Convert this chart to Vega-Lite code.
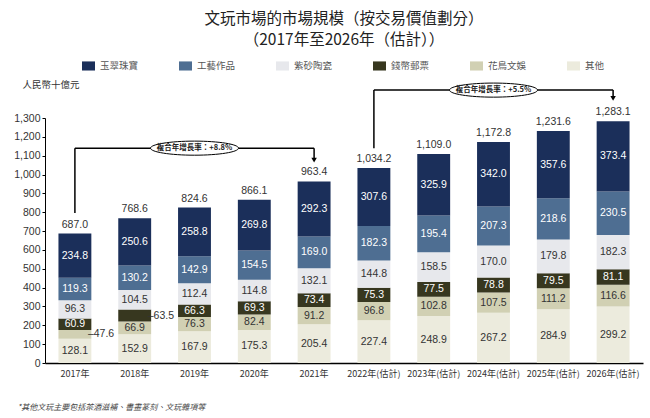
{
  "$schema": "https://vega.github.io/schema/vega-lite/v6.json",
  "width": 598,
  "height": 245,
  "autosize": {"type": "none"},
  "padding": {"left": 45, "top": 118, "right": 7, "bottom": 55},
  "background": "white",
  "config": {
    "view": {"stroke": null},
    "font": "Liberation Sans",
    "legend": {"padding": 0},
    "axisY": {
      "tickCount": 13,
      "labelOverlap": false,
      "grid": false,
      "labelFontSize": 10.5,
      "labelColor": "#333333",
      "labelPadding": 2,
      "tickSize": 3,
      "tickColor": "#000000",
      "domainColor": "#000000"
    },
    "axisX": {
      "labelOverlap": false
    }
  },
  "title": {
    "text": ["文玩市場的市場規模（按交易價值劃分）", "（2017年至2026年（估計））"],
    "font": "Noto Sans CJK TC",
    "fontSize": 15.5,
    "fontWeight": "normal",
    "color": "#222222",
    "anchor": "middle",
    "lineHeight": 21,
    "offset": 11
  },
  "datasets": {
    "main": [
      {"year": "2017年", "cat": "其他", "value": 128.1},
      {"year": "2017年", "cat": "花鳥文娛", "value": 47.6},
      {"year": "2017年", "cat": "錢幣郵票", "value": 60.9},
      {"year": "2017年", "cat": "紫砂陶瓷", "value": 96.3},
      {"year": "2017年", "cat": "工藝作品", "value": 119.3},
      {"year": "2017年", "cat": "玉翠珠寶", "value": 234.8},
      {"year": "2018年", "cat": "其他", "value": 152.9},
      {"year": "2018年", "cat": "花鳥文娛", "value": 66.9},
      {"year": "2018年", "cat": "錢幣郵票", "value": 63.5},
      {"year": "2018年", "cat": "紫砂陶瓷", "value": 104.5},
      {"year": "2018年", "cat": "工藝作品", "value": 130.2},
      {"year": "2018年", "cat": "玉翠珠寶", "value": 250.6},
      {"year": "2019年", "cat": "其他", "value": 167.9},
      {"year": "2019年", "cat": "花鳥文娛", "value": 76.3},
      {"year": "2019年", "cat": "錢幣郵票", "value": 66.3},
      {"year": "2019年", "cat": "紫砂陶瓷", "value": 112.4},
      {"year": "2019年", "cat": "工藝作品", "value": 142.9},
      {"year": "2019年", "cat": "玉翠珠寶", "value": 258.8},
      {"year": "2020年", "cat": "其他", "value": 175.3},
      {"year": "2020年", "cat": "花鳥文娛", "value": 82.4},
      {"year": "2020年", "cat": "錢幣郵票", "value": 69.3},
      {"year": "2020年", "cat": "紫砂陶瓷", "value": 114.8},
      {"year": "2020年", "cat": "工藝作品", "value": 154.5},
      {"year": "2020年", "cat": "玉翠珠寶", "value": 269.8},
      {"year": "2021年", "cat": "其他", "value": 205.4},
      {"year": "2021年", "cat": "花鳥文娛", "value": 91.2},
      {"year": "2021年", "cat": "錢幣郵票", "value": 73.4},
      {"year": "2021年", "cat": "紫砂陶瓷", "value": 132.1},
      {"year": "2021年", "cat": "工藝作品", "value": 169.0},
      {"year": "2021年", "cat": "玉翠珠寶", "value": 292.3},
      {"year": "2022年(估計)", "cat": "其他", "value": 227.4},
      {"year": "2022年(估計)", "cat": "花鳥文娛", "value": 96.8},
      {"year": "2022年(估計)", "cat": "錢幣郵票", "value": 75.3},
      {"year": "2022年(估計)", "cat": "紫砂陶瓷", "value": 144.8},
      {"year": "2022年(估計)", "cat": "工藝作品", "value": 182.3},
      {"year": "2022年(估計)", "cat": "玉翠珠寶", "value": 307.6},
      {"year": "2023年(估計)", "cat": "其他", "value": 248.9},
      {"year": "2023年(估計)", "cat": "花鳥文娛", "value": 102.8},
      {"year": "2023年(估計)", "cat": "錢幣郵票", "value": 77.5},
      {"year": "2023年(估計)", "cat": "紫砂陶瓷", "value": 158.5},
      {"year": "2023年(估計)", "cat": "工藝作品", "value": 195.4},
      {"year": "2023年(估計)", "cat": "玉翠珠寶", "value": 325.9},
      {"year": "2024年(估計)", "cat": "其他", "value": 267.2},
      {"year": "2024年(估計)", "cat": "花鳥文娛", "value": 107.5},
      {"year": "2024年(估計)", "cat": "錢幣郵票", "value": 78.8},
      {"year": "2024年(估計)", "cat": "紫砂陶瓷", "value": 170.0},
      {"year": "2024年(估計)", "cat": "工藝作品", "value": 207.3},
      {"year": "2024年(估計)", "cat": "玉翠珠寶", "value": 342.0},
      {"year": "2025年(估計)", "cat": "其他", "value": 284.9},
      {"year": "2025年(估計)", "cat": "花鳥文娛", "value": 111.2},
      {"year": "2025年(估計)", "cat": "錢幣郵票", "value": 79.5},
      {"year": "2025年(估計)", "cat": "紫砂陶瓷", "value": 179.8},
      {"year": "2025年(估計)", "cat": "工藝作品", "value": 218.6},
      {"year": "2025年(估計)", "cat": "玉翠珠寶", "value": 357.6},
      {"year": "2026年(估計)", "cat": "其他", "value": 299.2},
      {"year": "2026年(估計)", "cat": "花鳥文娛", "value": 116.6},
      {"year": "2026年(估計)", "cat": "錢幣郵票", "value": 81.1},
      {"year": "2026年(估計)", "cat": "紫砂陶瓷", "value": 182.3},
      {"year": "2026年(估計)", "cat": "工藝作品", "value": 230.5},
      {"year": "2026年(估計)", "cat": "玉翠珠寶", "value": 373.4}
    ],
    "brackets": [
      {"year": "2017年", "year2": "2017年", "y": 796, "y2": 1140},
      {"year": "2017年", "year2": "2021年", "y": 1140, "y2": 1140},
      {"year": "2021年", "year2": "2021年", "y": 1140, "y2": 1085},
      {"year": "2022年(估計)", "year2": "2022年(估計)", "y": 1140, "y2": 1448},
      {"year": "2022年(估計)", "year2": "2026年(估計)", "y": 1448, "y2": 1448},
      {"year": "2026年(估計)", "year2": "2026年(估計)", "y": 1448, "y2": 1412}
    ],
    "arrows": [
      {"year": "2021年", "y": 1077},
      {"year": "2026年(估計)", "y": 1404}
    ],
    "cagr": [
      {"year": "2019年", "y": 1140, "label": "複合年增長率：+8.8%"},
      {"year": "2024年(估計)", "y": 1448, "label": "複合年增長率：+5.5%"}
    ]
  },
  "layer": [
    {
      "data": {"name": "main"},
      "transform": [
        {"calculate": "indexof(['其他','花鳥文娛','錢幣郵票','紫砂陶瓷','工藝作品','玉翠珠寶'], datum.cat)", "as": "rank"},
        {"stack": "value", "groupby": ["year"], "sort": [{"field": "rank", "order": "ascending"}], "as": ["y0", "y1"]}
      ],
      "mark": {"type": "bar"},
      "encoding": {
        "x": {
          "field": "year", "type": "nominal",
          "scale": {"paddingInner": 0.45, "paddingOuter": 0.225},
          "sort": null,
          "axis": {
            "title": "*其他文玩主要包括茶酒滋補、書畫篆刻、文玩雜項等",
            "titleFont": "Noto Sans CJK TC",
            "titleFontSize": 8,
            "titleFontStyle": "italic",
            "titleFontWeight": "normal",
            "titleColor": "#444444",
            "titleAlign": "left",
            "titleAnchor": null,
            "titleBaseline": "middle",
            "titleX": -28,
            "titleY": 44,
            "labelAngle": 0,
            "labelFont": "Noto Sans CJK TC",
            "labelFontSize": 9,
            "labelColor": "#333333",
            "labelPadding": 6,
            "ticks": false,
            "domainColor": "#000000",
            "domainWidth": 1.5
          }
        },
        "y": {
          "field": "y1", "type": "quantitative",
          "scale": {"domain": [0, 1300], "nice": false},
          "axis": {
            "title": "人民幣十億元",
            "titleFont": "Noto Sans CJK TC",
            "titleFontSize": 9.5,
            "titleFontWeight": "normal",
            "titleColor": "#333333",
            "titleAngle": 0,
            "titleAlign": "left",
            "titleAnchor": null,
            "titleBaseline": "middle",
            "titleX": -23,
            "titleY": -34,
            "format": ",d"
          }
        },
        "y2": {"field": "y0"},
        "color": {
          "field": "cat", "type": "nominal",
          "scale": {
            "domain": ["玉翠珠寶", "工藝作品", "紫砂陶瓷", "錢幣郵票", "花鳥文娛", "其他"],
            "range": ["#1b2f5a", "#4e6e92", "#e7e8ec", "#37371f", "#d1d0b3", "#ecebdd"]
          },
          "legend": {
            "title": null,
            "orient": "none",
            "direction": "horizontal",
            "legendX": 37,
            "legendY": -59,
            "gridAlign": "all",
            "symbolType": "M-1,-0.7L1,-0.7L1,0.7L-1,0.7Z",
            "symbolSize": 169,
            "symbolStrokeWidth": 0,
            "labelFont": "Noto Sans CJK TC",
            "labelFontSize": 9.5,
            "labelColor": "#555555",
            "labelOffset": 5,
            "columnPadding": 40
          }
        }
      }
    },
    {
      "data": {"name": "main"},
      "transform": [
        {"calculate": "indexof(['其他','花鳥文娛','錢幣郵票','紫砂陶瓷','工藝作品','玉翠珠寶'], datum.cat)", "as": "rank"},
        {"stack": "value", "groupby": ["year"], "sort": [{"field": "rank", "order": "ascending"}], "as": ["y0", "y1"]},
        {"calculate": "(datum.y0 + datum.y1) / 2", "as": "mid"},
        {"filter": "!((datum.year == '2017年' && datum.cat == '花鳥文娛') || (datum.year == '2018年' && datum.cat == '錢幣郵票'))"}
      ],
      "mark": {"type": "text", "fontSize": 10.5, "baseline": "middle"},
      "encoding": {
        "x": {"field": "year", "type": "nominal"},
        "y": {"field": "mid", "type": "quantitative"},
        "text": {"field": "value", "type": "quantitative", "format": ".1f"},
        "color": {
          "condition": {"test": "indexof(['玉翠珠寶','工藝作品','錢幣郵票'], datum.cat) >= 0", "value": "#ffffff"},
          "value": "#333333"
        }
      }
    },
    {
      "data": {"name": "main"},
      "transform": [
        {"calculate": "indexof(['其他','花鳥文娛','錢幣郵票','紫砂陶瓷','工藝作品','玉翠珠寶'], datum.cat)", "as": "rank"},
        {"stack": "value", "groupby": ["year"], "sort": [{"field": "rank", "order": "ascending"}], "as": ["y0", "y1"]},
        {"calculate": "(datum.y0 + datum.y1) / 2", "as": "mid"},
        {"filter": "(datum.year == '2017年' && datum.cat == '花鳥文娛') || (datum.year == '2018年' && datum.cat == '錢幣郵票')"},
        {"calculate": "'–' + format(datum.value, '.1f')", "as": "lbl"}
      ],
      "mark": {"type": "text", "fontSize": 10.5, "baseline": "middle", "align": "left", "xOffset": 13, "color": "#333333"},
      "encoding": {
        "x": {"field": "year", "type": "nominal"},
        "y": {"field": "mid", "type": "quantitative"},
        "text": {"field": "lbl"}
      }
    },
    {
      "data": {"name": "main"},
      "transform": [
        {"aggregate": [{"op": "sum", "field": "value", "as": "total"}], "groupby": ["year"]}
      ],
      "mark": {"type": "text", "fontSize": 10.5, "baseline": "bottom", "dy": -4, "color": "#333333"},
      "encoding": {
        "x": {"field": "year", "type": "nominal"},
        "y": {"field": "total", "type": "quantitative"},
        "text": {"field": "total", "type": "quantitative", "format": ",.1f"}
      }
    },
    {
      "data": {"name": "brackets"},
      "mark": {"type": "rule", "color": "#000000", "strokeWidth": 1.5},
      "encoding": {
        "x": {"field": "year", "type": "nominal"},
        "x2": {"field": "year2"},
        "y": {"field": "y", "type": "quantitative"},
        "y2": {"field": "y2"}
      }
    },
    {
      "data": {"name": "arrows"},
      "mark": {"type": "point", "shape": "triangle-down", "filled": true, "size": 30, "color": "#000000", "opacity": 1},
      "encoding": {
        "x": {"field": "year", "type": "nominal"},
        "y": {"field": "y", "type": "quantitative"}
      }
    },
    {
      "data": {"name": "cagr"},
      "mark": {"type": "point", "shape": "M-1,0A1,0.16,0,1,0,1,0A1,0.16,0,1,0,-1,0Z", "size": 7744, "filled": false, "fill": "#ffffff", "stroke": "#000000", "strokeWidth": 1, "opacity": 1, "fillOpacity": 1},
      "encoding": {
        "x": {"field": "year", "type": "nominal"},
        "y": {"field": "y", "type": "quantitative"}
      }
    },
    {
      "data": {"name": "cagr"},
      "mark": {"type": "text", "font": "Noto Sans CJK TC", "fontSize": 7.5, "fontWeight": "bold", "color": "#222222", "baseline": "middle"},
      "encoding": {
        "x": {"field": "year", "type": "nominal"},
        "y": {"field": "y", "type": "quantitative"},
        "text": {"field": "label"}
      }
    }
  ]
}
